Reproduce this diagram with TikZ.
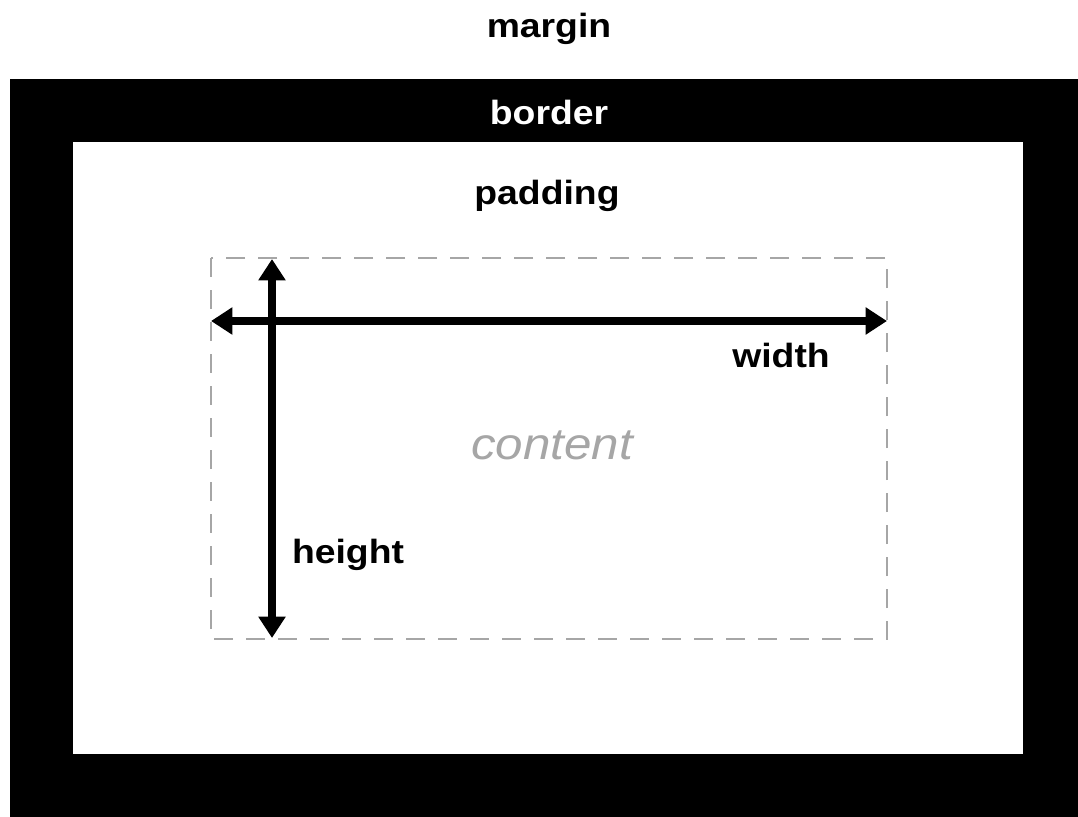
\documentclass[tikz,border=0pt]{standalone}
\usepackage{fontspec}
\usepackage{graphicx}
\setmainfont{Liberation Sans}
\usetikzlibrary{arrows.meta}
\newcommand{\squash}[1]{\scalebox{1}[0.9]{#1}}
\tikzset{
  lbl/.style={font=\fontsize{28}{30}\selectfont\bfseries, anchor=base, inner sep=0pt},
  dimboth/.style={line width=6.5pt, {Triangle[length=16pt,width=19.5pt]}-{Triangle[length=16pt,width=19.5pt]}},
  contentbox/.style={draw=black!35, line width=1.2pt, dash pattern=on 14pt off 10pt}
}
\begin{document}
\begin{tikzpicture}[x=0.75pt,y=-0.75pt]
\useasboundingbox (0,0) rectangle (1078,817);
\fill[white] (0,0) rectangle (1078,817);
\fill[black] (10,79) rectangle (1078,817);
\fill[white] (73,142) rectangle (1023,754);
\draw[contentbox] (211,258) rectangle (887,639);
\coordinate (wl) at (211,321);
\coordinate (wr) at (887,321);
\coordinate (ht) at (272,259);
\coordinate (hb) at (272,638);
\draw[dimboth] (wl) -- (wr);
\draw[dimboth] (ht) -- (hb);
\node[lbl] (margin) at (549,38) {\squash{margin}};
\node[lbl, text=white] (border) at (549,124) {\squash{border}};
\node[lbl] (padding) at (547,204) {\squash{padding}};
\node[lbl] (width) at (781,367) {\squash{width}};
\node[lbl] (height) at (348,563) {\squash{height}};
\node[font=\fontsize{37}{40}\selectfont\itshape, text=black!35, anchor=base, inner sep=0pt] (content) at (552,459) {\squash{content}};
\end{tikzpicture}
\end{document}
